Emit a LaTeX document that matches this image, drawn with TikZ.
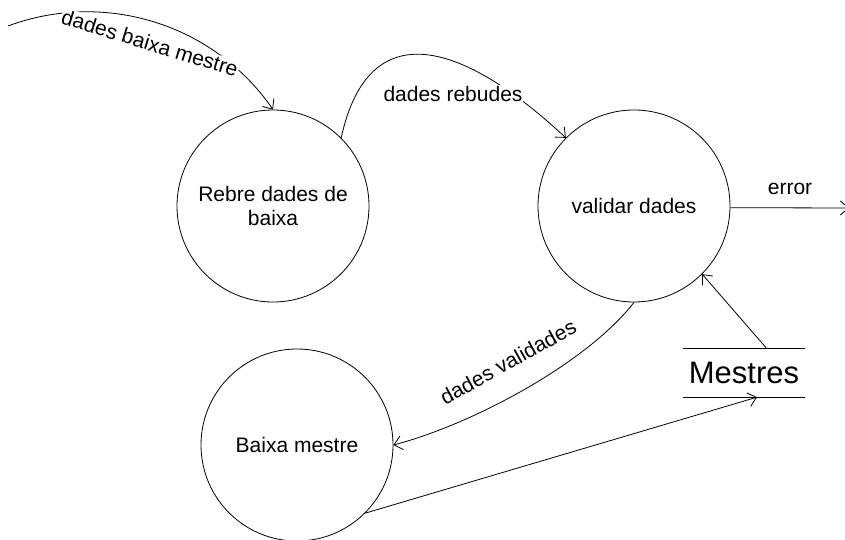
\documentclass[tikz,border=0pt]{standalone}
\usepackage{fontspec}
\setmainfont{Liberation Sans}
\usetikzlibrary{arrows.meta}
\begin{document}
\begin{tikzpicture}[x=1pt,y=-1pt,
  proc/.style={circle,draw,line width=0.8pt,minimum size=192pt,inner sep=0pt,align=center,font=\fontsize{21}{24}\selectfont},
  flow/.style={line width=0.8pt,-{Straight Barb[length=8pt,width=14pt]}},
  lbl/.style={font=\fontsize{21}{24}\selectfont,inner sep=1pt},
  store/.style={minimum width=122pt,minimum height=48pt,inner sep=0pt,font=\fontsize{31}{36}\selectfont},
  storeline/.style={line width=1.2pt}]
\useasboundingbox (0,0) rectangle (845,540);
\clip (0,0) rectangle (845,540);
\node[proc] (c1) at (273,206) {Rebre dades de\\baixa};
\node[proc] (c2) at (634,206) {validar dades};
\node[proc] (c3) at (297,445) {Baixa mestre};
\node[store] (m) at (744,373) {Mestres};
\draw[storeline] (m.north west) -- (m.north east);
\draw[storeline] (m.south west) -- (m.south east);
\coordinate (src) at (8,26);
\coordinate (sink) at (849,208);
\draw[flow] (src) .. controls (105,-10) and (214,24) .. (c1.north);
\draw[flow] (c1.45) .. controls (369,11) and (464,43) .. (c2.135);
\draw[flow] (c2.-1) -- (sink);
\draw[flow] (c2.south) .. controls (585,365) and (470,425) .. (c3.east);
\draw[flow] (c3.-45) -- ([xshift=13pt]m.south);
\draw[flow] ([xshift=23pt]m.north) -- (c2.-45);
\node[lbl,fill=white,rotate=-17] (l1) at (150,43) {dades baixa mestre};
\node[lbl,fill=white] (l2) at (453,94) {dades rebudes};
\node[lbl] (l3) at (790,189) {error};
\node[lbl,rotate=29] (l4) at (508,362) {dades validades};
\end{tikzpicture}
\end{document}
